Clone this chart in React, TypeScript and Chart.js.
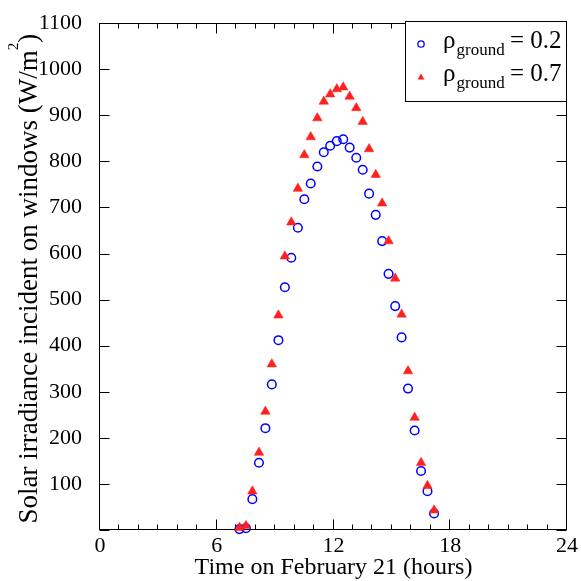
import React, { useEffect, useRef } from "react";
import { Chart, registerables } from "chart.js";

Chart.register(...registerables);

// ---- data ----
const hours = [
  7.17, 7.5, 7.83, 8.17, 8.5, 8.83, 9.17, 9.5, 9.83, 10.17, 10.5, 10.83, 11.17, 11.5, 11.83,
  12.17, 12.5, 12.83, 13.17, 13.5, 13.83, 14.17, 14.5, 14.83, 15.17, 15.5, 15.83, 16.17, 16.5,
  16.83, 17.17,
];
const rhoGround02 = [
  2, 4, 67, 146, 221, 316, 412, 527, 591, 656, 718, 752, 789, 820, 834,
  844, 848, 830, 808, 782, 730, 684, 627, 556, 486, 418, 307, 216, 128,
  84, 36,
];
const rhoGround07 = [
  5, 9, 84, 168, 257, 360, 466, 594, 668, 741, 814, 853, 894, 930, 946,
  957, 961, 941, 916, 886, 827, 771, 709, 627, 546, 468, 345, 244, 146,
  96, 43,
];
const rhoValues = ["0.2", "0.7"];
const xTitle = "Time on February 21 (hours)";
const yTitleMain = "Solar irradiance incident on windows (W/m";
const yTitleSup = "2";
const yTitleEnd = ")";
const xMin = 0, xMax = 24, xStep = 6, xMinorStep = 1;
const yMin = 0, yMax = 1100, yStep = 100;

const FONT = "'Liberation Serif', 'Times New Roman', serif";
const BLUE = "rgb(0,0,255)";
const RED = "rgb(255,32,32)";

const decorPlugin = {
  id: "decor",
  beforeDatasetsDraw(chart: any) {
    const { ctx, chartArea: ca, scales } = chart;
    const xs = scales.x, ys = scales.y;
    ctx.save();
    ctx.strokeStyle = "#000";
    ctx.lineWidth = 1;
    const L = Math.round(ca.left) - 0.5, R = Math.round(ca.right) - 0.5;
    const T = Math.round(ca.top) + 0.5, B = Math.round(ca.bottom) - 0.5;
    ctx.strokeRect(L, T, R - L, B - T);
    ctx.beginPath();
    for (let v = xMin; v <= xMax + 1e-9; v += xMinorStep) {
      const major = Math.abs(v / xStep - Math.round(v / xStep)) < 1e-6;
      const len = major ? 10 : 5;
      const px = Math.round(xs.getPixelForValue(v)) - 0.5;
      ctx.moveTo(px, B); ctx.lineTo(px, B - len);
      ctx.moveTo(px, T); ctx.lineTo(px, T + len);
    }
    for (let v = yMin; v <= yMax + 1e-9; v += yStep) {
      const py = Math.round(ys.getPixelForValue(v)) + 0.5;
      ctx.moveTo(L, py); ctx.lineTo(L + 10, py);
      ctx.moveTo(R, py); ctx.lineTo(R - 10, py);
    }
    ctx.stroke();

    // axis titles
    ctx.fillStyle = "#000";
    ctx.font = `24px ${FONT}`;
    ctx.textAlign = "center";
    ctx.textBaseline = "alphabetic";
    ctx.fillText(xTitle, (ca.left + ca.right) / 2, 574);

    ctx.translate(37, (ca.top + ca.bottom) / 2 + 2);
    ctx.rotate(-Math.PI / 2);
    ctx.textAlign = "left";
    ctx.font = `27px ${FONT}`;
    const w1 = ctx.measureText(yTitleMain).width;
    const w3 = ctx.measureText(yTitleEnd).width;
    ctx.font = `15px ${FONT}`;
    const w2 = ctx.measureText(yTitleSup).width;
    let x0 = -(w1 + w2 + w3) / 2;
    ctx.font = `27px ${FONT}`;
    ctx.fillText(yTitleMain, x0, 0);
    x0 += w1;
    ctx.font = `15px ${FONT}`;
    ctx.fillText(yTitleSup, x0, -19);
    x0 += w2;
    ctx.font = `27px ${FONT}`;
    ctx.fillText(yTitleEnd, x0, 0);
    ctx.restore();
  },
  afterDraw(chart: any) {
    const { ctx, chartArea: ca } = chart;
    ctx.save();
    const w = 161, h = 80;
    const lx0 = Math.round(ca.right) - w - 1;
    const ly0 = Math.round(ca.top) - 2;
    ctx.fillStyle = "#fff";
    ctx.fillRect(lx0, ly0, w, h);
    ctx.strokeStyle = "#000";
    ctx.lineWidth = 1;
    ctx.strokeRect(lx0 + 0.5, ly0 + 0.5, w, h);
    rhoValues.forEach((val, i) => {
      const base = ly0 + 27 + i * 33;
      const mx = lx0 + 16;
      if (i === 0) {
        ctx.beginPath();
        ctx.arc(mx, base - 4, 3.2, 0, Math.PI * 2);
        ctx.strokeStyle = BLUE;
        ctx.lineWidth = 1.3;
        ctx.stroke();
      } else {
        const r = 4;
        const cy = base - 3.5;
        ctx.beginPath();
        ctx.moveTo(mx, cy - r);
        ctx.lineTo(mx + r * 0.866, cy + r * 0.5);
        ctx.lineTo(mx - r * 0.866, cy + r * 0.5);
        ctx.closePath();
        ctx.fillStyle = RED;
        ctx.fill();
      }
      ctx.fillStyle = "#000";
      ctx.textAlign = "left";
      ctx.textBaseline = "alphabetic";
      ctx.font = `25px ${FONT}`;
      ctx.fillText("ρ", lx0 + 38, base);
      const rw = ctx.measureText("ρ").width;
      ctx.font = `17px ${FONT}`;
      ctx.fillText("ground", lx0 + 38 + rw + 1, base + 7);
      ctx.font = `25px ${FONT}`;
      ctx.fillText("= " + val, lx0 + 105, base);
    });
    ctx.restore();
  },
};

export default function App() {
  const ref = useRef<HTMLCanvasElement | null>(null);
  useEffect(() => {
    if (!ref.current) return;
    const chart = new Chart(ref.current, {
      type: "scatter",
      data: {
        datasets: [
          {
            label: "rho 0.2",
            data: hours.map((t, i) => ({ x: t, y: rhoGround02[i] })),
            pointStyle: "circle",
            pointRadius: 4.3,
            pointBorderWidth: 1.5,
            borderColor: BLUE,
            backgroundColor: "rgba(0,0,0,0)",
            pointBackgroundColor: "rgba(0,0,0,0)",
            pointBorderColor: BLUE,
            clip: false as any,
            order: 1,
          },
          {
            label: "rho 0.7",
            data: hours.map((t, i) => ({ x: t, y: rhoGround07[i] })),
            pointStyle: "triangle",
            pointRadius: 5.5,
            pointBorderWidth: 0.5,
            borderColor: RED,
            backgroundColor: RED,
            pointBackgroundColor: RED,
            pointBorderColor: RED,
            clip: false as any,
            order: 0,
          },
        ],
      },
      options: {
        responsive: false,
        animation: false,
        devicePixelRatio: 1,
        layout: { padding: { left: 0, right: 14, top: 17, bottom: 0 } },
        plugins: { legend: { display: false }, tooltip: { enabled: false } },
        scales: {
          x: {
            type: "linear",
            min: xMin,
            max: xMax,
            grid: { display: false },
            border: { display: false },
            ticks: {
              stepSize: xStep,
              padding: -5,
              color: "#000",
              font: { family: FONT, size: 22 },
              maxRotation: 0,
            },
            afterFit: (s: any) => { s.height = 51; },
          },
          y: {
            type: "linear",
            min: yMin,
            max: yMax,
            grid: { display: false },
            border: { display: false },
            ticks: {
              stepSize: yStep,
              padding: 10,
              color: "#000",
              font: { family: FONT, size: 22 },
              callback: (v: any) => (v === 0 ? "" : String(v)),
            },
            afterFit: (s: any) => { s.width = 100; },
          },
        },
      },
      plugins: [decorPlugin],
    });
    return () => chart.destroy();
  }, []);
  return (
    <div style={{ position: "fixed", left: 0, top: 0, width: 581, height: 581, background: "#fff" }}>
      <canvas ref={ref} width={581} height={581} style={{ width: 581, height: 581 }} />
    </div>
  );
}
